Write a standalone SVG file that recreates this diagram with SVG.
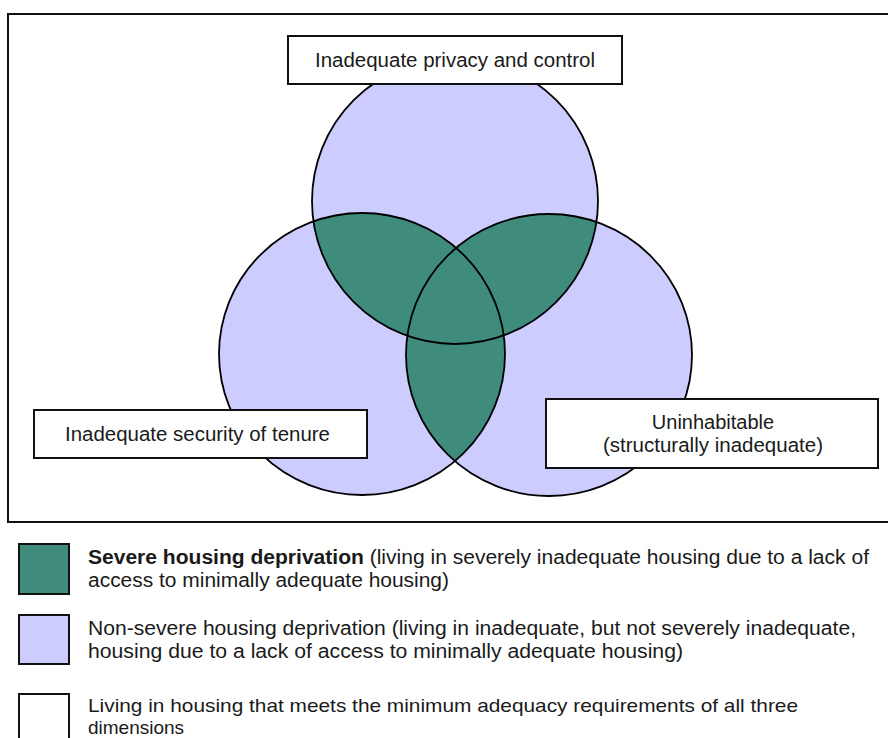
<svg xmlns="http://www.w3.org/2000/svg" width="888" height="738" viewBox="0 0 888 738">
<style>
.lav{fill:#CCCCFF}
.grn{fill:#3F8C7C}
.ol{fill:none;stroke:#000;stroke-width:1.8}
.box{fill:#fff;stroke:#111;stroke-width:2}
.t{font-family:"Liberation Sans",Arial,sans-serif;font-size:20px;fill:#1a1a1a}
.lg{font-family:"Liberation Sans",Arial,sans-serif;font-size:20px;fill:#1a1a1a}
.lg2{font-family:"Liberation Sans",Arial,sans-serif;font-size:19px;fill:#1a1a1a}
</style>
<defs>
<ellipse id="cT" cx="455" cy="201" rx="143" ry="143"/>
<ellipse id="cL" cx="362" cy="354" rx="143" ry="141"/>
<ellipse id="cR" cx="549" cy="355" rx="143" ry="141"/>
<clipPath id="clipT"><use href="#cT"/></clipPath>
<clipPath id="clipL"><use href="#cL"/></clipPath>
</defs>
<rect id="frame" x="8" y="14" width="900" height="508" fill="#fff" stroke="#111" stroke-width="2"/>
<g id="venn">
<use href="#cT" class="lav"/>
<use href="#cL" class="lav"/>
<use href="#cR" class="lav"/>
<use href="#cL" class="grn" clip-path="url(#clipT)"/>
<use href="#cR" class="grn" clip-path="url(#clipT)"/>
<use href="#cR" class="grn" clip-path="url(#clipL)"/>
<use href="#cT" class="ol"/>
<use href="#cL" class="ol"/>
<use href="#cR" class="ol"/>
</g>
<g id="connectors"></g>
<g id="label-privacy">
<rect class="box" x="288" y="36" width="334" height="48"/>
<text class="t" x="315" y="67" textLength="280" lengthAdjust="spacingAndGlyphs">Inadequate privacy and control</text>
</g>
<g id="label-tenure">
<rect class="box" x="34" y="410" width="333" height="48"/>
<text class="t" x="65" y="441" textLength="265" lengthAdjust="spacingAndGlyphs">Inadequate security of tenure</text>
</g>
<g id="label-uninhabitable">
<rect class="box" x="546" y="399" width="332" height="69"/>
<text class="t" x="713" y="429" text-anchor="middle">Uninhabitable</text>
<text class="t" x="603" y="452" textLength="220" lengthAdjust="spacingAndGlyphs">(structurally inadequate)</text>
</g>
<g id="legend-severe">
<rect x="19" y="544" width="50" height="50" class="grn" stroke="#111" stroke-width="2"/>
<text class="lg" x="88" y="564" textLength="781" lengthAdjust="spacingAndGlyphs"><tspan font-weight="bold">Severe housing deprivation</tspan> (living in severely inadequate housing due to a lack of</text>
<text class="lg" x="88" y="587" textLength="361" lengthAdjust="spacingAndGlyphs">access to minimally adequate housing)</text>
</g>
<g id="legend-nonsevere">
<rect x="19" y="615" width="50" height="49" class="lav" stroke="#111" stroke-width="2"/>
<text class="lg" x="88" y="635" textLength="768" lengthAdjust="spacingAndGlyphs">Non-severe housing deprivation (living in inadequate, but not severely inadequate,</text>
<text class="lg" x="88" y="658" textLength="595" lengthAdjust="spacingAndGlyphs">housing due to a lack of access to minimally adequate housing)</text>
</g>
<g id="legend-adequate">
<rect x="19" y="694" width="50" height="60" fill="#fff" stroke="#111" stroke-width="2"/>
<text class="lg2" x="88" y="712" textLength="710" lengthAdjust="spacingAndGlyphs">Living in housing that meets the minimum adequacy requirements of all three</text>
<text class="lg2" x="88" y="734">dimensions</text>
</g>
</svg>
